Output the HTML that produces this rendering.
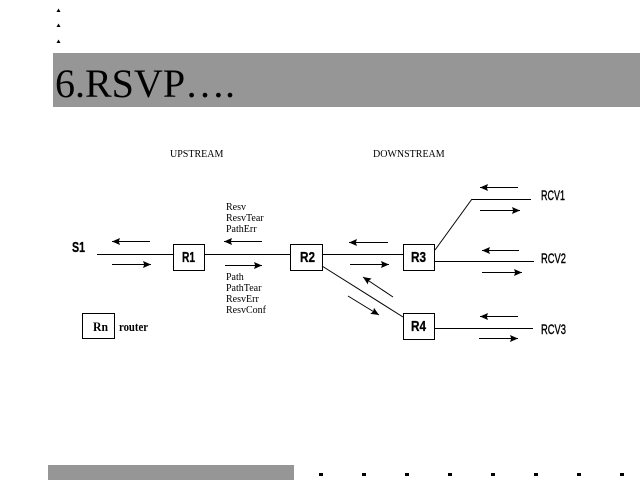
<!DOCTYPE html>
<html><head><meta charset="utf-8"><style>
html,body{margin:0;padding:0;background:#fff;}
svg{display:block;}
.s{font-family:"Liberation Serif",serif;}
.a{font-family:"Liberation Sans",sans-serif;}
</style></head><body>
<svg width="640" height="480" viewBox="0 0 640 480" xmlns="http://www.w3.org/2000/svg">
<defs>
<marker id="ah" viewBox="0 0 10 8" refX="10" refY="4" markerWidth="8" markerHeight="7" markerUnits="userSpaceOnUse" orient="auto" preserveAspectRatio="none">
<path d="M0,0 L10,4 L0,8 L1.5,4 Z" fill="#000"/>
</marker>
</defs>
<!-- top bullets -->
<path d="M56.5,12 L58.5,8.5 L60.5,12 Z" fill="#000"/>
<path d="M56.5,27 L58.5,23.5 L60.5,27 Z" fill="#000"/>
<path d="M56.5,43 L58.5,39.5 L60.5,43 Z" fill="#000"/>
<!-- title bar -->
<rect x="53" y="53" width="587" height="54" fill="#969696"/>
<text x="55" y="97" class="s" font-size="40" fill="#000">6.RSVP….</text>

<text x="170" y="157" class="s" font-size="10">UPSTREAM</text>
<text x="373" y="157" class="s" font-size="10">DOWNSTREAM</text>

<g stroke="#000" stroke-width="1" fill="none">
<line x1="97" y1="254.5" x2="173" y2="254.5"/>
<rect x="173.5" y="244.5" width="31" height="26"/>
<line x1="204" y1="254.5" x2="290" y2="254.5"/>
<rect x="290.5" y="244.5" width="32" height="26"/>
<line x1="322" y1="254.5" x2="403" y2="254.5"/>
<rect x="403.5" y="244.5" width="31" height="26"/>
<line x1="434" y1="261.5" x2="534" y2="261.5"/>
<line x1="435" y1="250" x2="472" y2="199"/>
<line x1="472" y1="199.5" x2="531" y2="199.5"/>
<line x1="322" y1="266" x2="403" y2="317"/>
<rect x="403.5" y="313.5" width="31" height="26"/>
<line x1="434" y1="328.5" x2="533" y2="328.5"/>
<rect x="82.5" y="313.5" width="32" height="25"/>
</g>

<g stroke="#000" stroke-width="1" marker-end="url(#ah)">
<line x1="150" y1="241.5" x2="112" y2="241.5"/>
<line x1="112" y1="264.5" x2="151" y2="264.5"/>
<line x1="262" y1="241.5" x2="224" y2="241.5"/>
<line x1="225" y1="265.5" x2="262" y2="265.5"/>
<line x1="388" y1="242.5" x2="349" y2="242.5"/>
<line x1="350" y1="264.5" x2="389" y2="264.5"/>
<line x1="393" y1="297" x2="363" y2="277"/>
<line x1="348" y1="296" x2="379" y2="315"/>
<line x1="518" y1="187.5" x2="480" y2="187.5"/>
<line x1="480" y1="210.5" x2="520" y2="210.5"/>
<line x1="519" y1="250.5" x2="482" y2="250.5"/>
<line x1="482" y1="272.5" x2="522" y2="272.5"/>
<line x1="518" y1="316.5" x2="480" y2="316.5"/>
<line x1="479" y1="338.5" x2="518" y2="338.5"/>
</g>

<g class="s" font-size="10">
<text x="226" y="210">Resv</text>
<text x="226" y="221">ResvTear</text>
<text x="226" y="232">PathErr</text>
<text x="226" y="280">Path</text>
<text x="226" y="291">PathTear</text>
<text x="226" y="302">ResvErr</text>
<text x="226" y="313">ResvConf</text>
</g>

<g class="a" font-size="15" font-weight="bold" stroke="#000" stroke-width="0.3">
<text x="72" y="252" textLength="13" lengthAdjust="spacingAndGlyphs">S1</text>
<text x="182" y="262" textLength="13" lengthAdjust="spacingAndGlyphs">R1</text>
<text x="300" y="262" textLength="15" lengthAdjust="spacingAndGlyphs">R2</text>
<text x="411" y="262" textLength="15" lengthAdjust="spacingAndGlyphs">R3</text>
<text x="411" y="331" textLength="15" lengthAdjust="spacingAndGlyphs">R4</text>
</g>
<g class="a" font-size="14" stroke="#000" stroke-width="0.4">
<text x="541" y="200" textLength="24" lengthAdjust="spacingAndGlyphs">RCV1</text>
<text x="541" y="263" textLength="25" lengthAdjust="spacingAndGlyphs">RCV2</text>
<text x="541" y="334" textLength="25" lengthAdjust="spacingAndGlyphs">RCV3</text>
</g>
<g class="s" font-size="13" font-weight="bold">
<text x="93" y="331" textLength="15" lengthAdjust="spacingAndGlyphs">Rn</text>
<text x="119" y="331" textLength="29" lengthAdjust="spacingAndGlyphs">router</text>
</g>

<!-- bottom -->
<rect x="48" y="465" width="246" height="15" fill="#969696"/>
<g fill="#000">
<rect x="319" y="473" width="4" height="3"/>
<rect x="362" y="473" width="4" height="3"/>
<rect x="405" y="473" width="4" height="3"/>
<rect x="448" y="473" width="4" height="3"/>
<rect x="491" y="473" width="4" height="3"/>
<rect x="534" y="473" width="4" height="3"/>
<rect x="577" y="473" width="4" height="3"/>
<rect x="620" y="473" width="4" height="3"/>
</g>
</svg>
</body></html>
